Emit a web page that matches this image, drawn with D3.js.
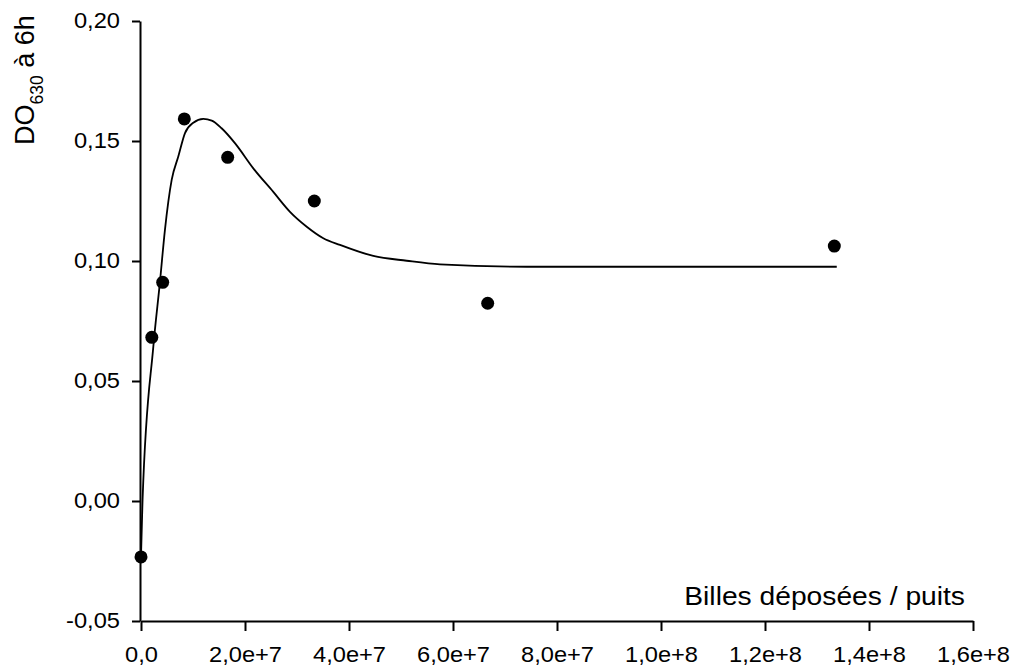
<!DOCTYPE html>
<html>
<head>
<meta charset="utf-8">
<script src="https://cdn.jsdelivr.net/npm/d3@7"></script>
<style>
  html, body { margin: 0; padding: 0; background: #fff; }
  svg { display: block; }
  text { font-family: "Liberation Sans", Arial, sans-serif; fill: #000; }
</style>
</head>
<body>
<svg id="chart" width="1014" height="668"></svg>
<script>
// ---- data ----
const beads = [0, 2.08e6, 4.17e6, 8.33e6, 1.667e7, 3.333e7, 6.667e7, 1.3333e8];
const od = [-0.0233, 0.0682, 0.0911, 0.1592, 0.1432, 0.125, 0.0824, 0.1062];

const fitX = [0, 0.19e6, 0.3e6, 2.37e6, 3.65e6, 4.6e6, 5.9e6, 7.17e6, 8.46e6, 10.06e6, 11.98e6, 13.6e6,
              15.5e6, 18.1e6, 21.6e6, 25.4e6, 28.65e6, 31.87e6, 35.06e6, 38.27e6, 44.67e6, 51.1e6,
              57.5e6, 74.2e6, 133.8e6];
const fitY = [-0.0233, -0.0079, 0.0004, 0.0643, 0.0914, 0.1129, 0.1338, 0.1435, 0.1533, 0.1576, 0.1592, 0.1585,
              0.1553, 0.149, 0.1386, 0.1289, 0.1205, 0.1143, 0.1095, 0.1067, 0.1021, 0.1001,
              0.0986, 0.0976, 0.0976];

const xTicks = [0, 2e7, 4e7, 6e7, 8e7, 1e8, 1.2e8, 1.4e8, 1.6e8];
const yTicks = [-0.05, 0, 0.05, 0.10, 0.15, 0.20];
const xLabel = "Billes déposées / puits";
const yLabelMain = "DO";
const yLabelSub = "630";
const yLabelRest = " à 6h";

// ---- layout ----
const svg = d3.select("#chart");
const x = d3.scaleLinear().domain([0, 1.6e8]).range([141, 973]);
const y = d3.scaleLinear().domain([-0.05, 0.20]).range([621, 21]);

const loc = d3.formatLocale({decimal: ",", thousands: " ", grouping: [3], currency: ["", ""], minus: "-"});
const fy = loc.format(".2f");
const fe = loc.format(".1e");
const fx = d => d === 0 ? "0,0" : fe(d);

const xAxis = svg.append("g")
  .attr("transform", `translate(0,${y.range()[0]})`)
  .call(d3.axisBottom(x).tickValues(xTicks).tickFormat(fx).tickSize(10).tickSizeOuter(0).tickPadding(16));
const yAxis = svg.append("g")
  .attr("transform", `translate(${x.range()[0] - 1},0)`)
  .call(d3.axisLeft(y).tickValues(yTicks).tickFormat(fy).tickSize(8).tickSizeOuter(0).tickPadding(12));

[xAxis, yAxis].forEach(g => {
  g.selectAll("path.domain").attr("stroke", "#000").attr("stroke-width", 2);
  g.selectAll(".tick line").attr("stroke", "#000").attr("stroke-width", 2);
  g.selectAll(".tick text").attr("font-size", 21.5).attr("font-family", "Liberation Sans, Arial, sans-serif").attr("fill", "#000");
});
// slight horizontal stretch to match reference glyph widths
svg.selectAll(".tick text").each(function() {
  const w = this.getComputedTextLength();
  d3.select(this).attr("textLength", w * 1.1).attr("lengthAdjust", "spacingAndGlyphs");
});

// fitted curve
const line = d3.line().x((d, i) => x(fitX[i])).y((d, i) => y(fitY[i])).curve(d3.curveMonotoneX);
svg.append("path")
  .datum(fitX)
  .attr("d", line)
  .attr("fill", "none")
  .attr("stroke", "#000")
  .attr("stroke-width", 1.8);

// points
svg.append("g").selectAll("circle")
  .data(beads)
  .join("circle")
  .attr("cx", d => x(d))
  .attr("cy", (d, i) => y(od[i]))
  .attr("r", 6.5)
  .attr("fill", "#000");

// x label
const xl = svg.append("text")
  .attr("x", 965).attr("y", 605)
  .attr("text-anchor", "end")
  .attr("font-size", 26)
  .text(xLabel);
xl.attr("textLength", xl.node().getComputedTextLength() * 1.085).attr("lengthAdjust", "spacingAndGlyphs");

// y label
const yl = svg.append("text")
  .attr("transform", "translate(34,145) rotate(-90)")
  .attr("font-size", 27);
yl.append("tspan").text(yLabelMain);
yl.append("tspan").attr("font-size", 17.5).attr("dy", 9).text(yLabelSub);
yl.append("tspan").attr("dy", -9).text(yLabelRest);
</script>
</body>
</html>
